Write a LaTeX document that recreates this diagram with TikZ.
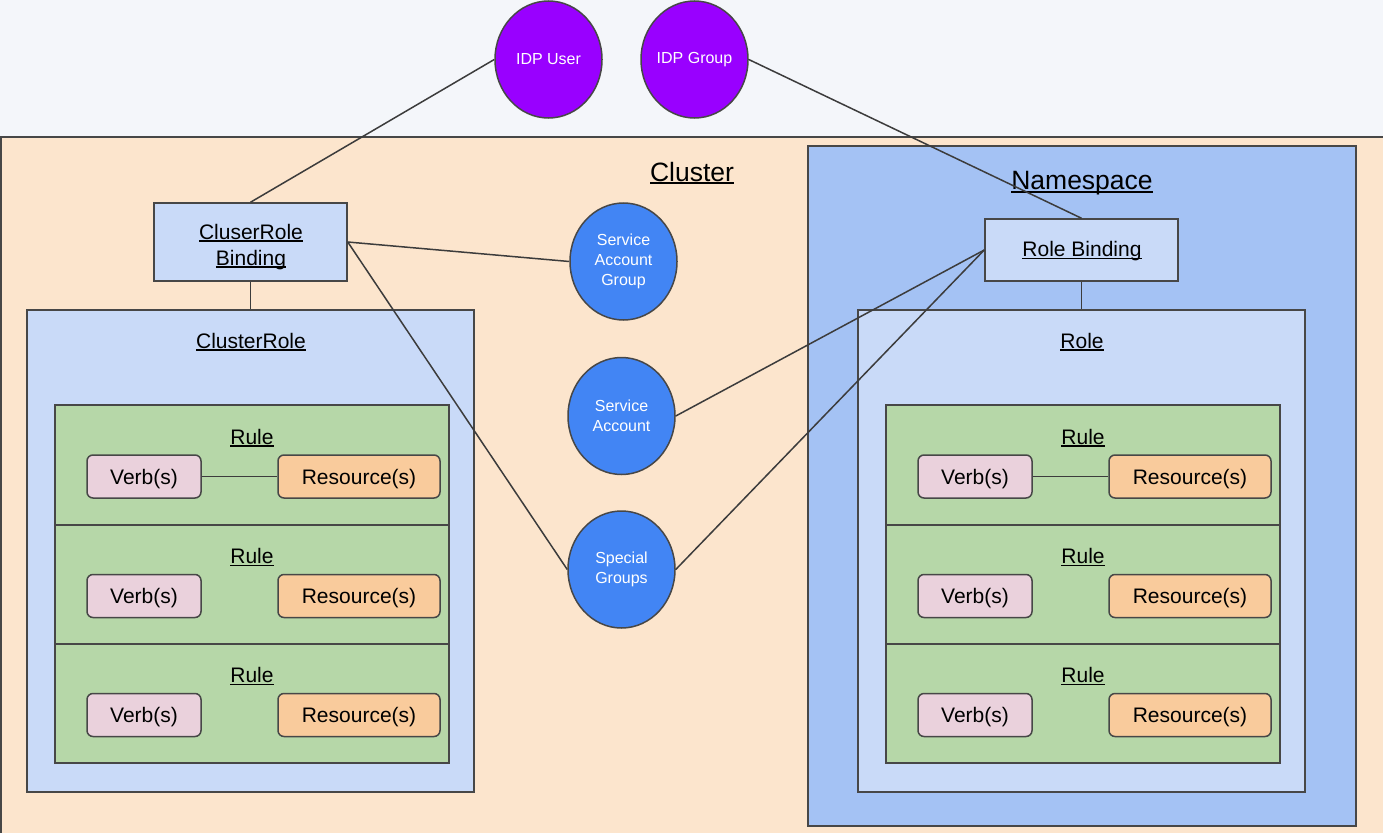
\documentclass[tikz,border=0pt]{standalone}
\usepackage{fontspec}
\setmainfont{Liberation Sans}
\usetikzlibrary{shapes.geometric}

\definecolor{pagebg}{HTML}{F4F6FA}
\definecolor{clusterpeach}{HTML}{FCE5CD}
\definecolor{nsblue}{HTML}{A4C2F4}
\definecolor{paleblue}{HTML}{C9DAF8}
\definecolor{rulegreen}{HTML}{B6D7A8}
\definecolor{verbpink}{HTML}{EAD1DC}
\definecolor{resorange}{HTML}{F9CB9C}
\definecolor{idppurple}{HTML}{9900FF}
\definecolor{sablue}{HTML}{4285F4}
\definecolor{edgegray}{HTML}{474747}
\definecolor{linegray}{HTML}{3C3C3C}

% underlined label with a fixed offset below the baseline
\newcommand\ulabel[1]{\setbox0=\hbox{#1}\rlap{\rule[-0.12em]{\wd0}{0.075em}}\box0}

\begin{document}
\begin{tikzpicture}[x=1pt,y=-1pt,
  frame/.style={draw=edgegray, line width=1.5pt},
  box/.style={frame, rectangle, inner sep=0pt},
  pill/.style={frame, rectangle, rounded corners=6pt, minimum height=43pt,
    inner sep=0pt, text depth=0pt, font=\fontsize{21}{25}\selectfont},
  verbbox/.style={pill, fill=verbpink, minimum width=114pt},
  resbox/.style={pill, fill=resorange, minimum width=162pt},
  bubble/.style={frame, ellipse, minimum width=107pt, minimum height=117pt,
    inner sep=0pt, text=white, align=center, font=\fontsize{16}{20}\selectfont},
  link/.style={draw=linegray, line width=1.5pt},
  heading/.style={font=\fontsize{21}{26}\selectfont, inner sep=0pt, align=center},
  bigheading/.style={font=\fontsize{26.5}{30}\selectfont, inner sep=0pt},
]
\useasboundingbox (0,0) rectangle (1383,832);
\clip (0,0) rectangle (1383,832);
\fill[pagebg] (0,0) rectangle (1383,832);

% cluster and namespace areas
\node[box, fill=clusterpeach, minimum width=1399pt, minimum height=713pt]
  (cluster) at (700.5,493.5) {};
\node[bigheading] (clustertitle) at (692,173) {\ulabel{Cluster}};
\node[box, fill=nsblue, minimum width=548pt, minimum height=680pt]
  (namespace) at (1082,486) {};
\node[bigheading] (nstitle) at (1082,183) {\ulabel{Namespace}};

% role containers
\node[box, fill=paleblue, minimum width=447pt, minimum height=482pt]
  (crole) at (250.5,551) {};
\node[heading] (croletitle) at (251,342) {\ulabel{ClusterRole}};
\node[box, fill=paleblue, minimum width=447pt, minimum height=482pt]
  (role) at (1081.5,551) {};
\node[heading] (roletitle) at (1082,342) {\ulabel{Role}};

% bindings
\node[box, fill=paleblue, minimum width=193pt, minimum height=78pt]
  (crb) at (250.5,242) {};
\node[heading] (crbtext) at (251,247) {\ulabel{CluserRole}\\\ulabel{Binding}};
\node[box, fill=paleblue, minimum width=193pt, minimum height=62pt]
  (rb) at (1081.5,250) {};
\node[heading] (rbtext) at (1082,251.5) {\ulabel{Role Binding}};

% rules with verbs and resources
\foreach \side/\cx in {l/252, r/1083}{
  \foreach \i/\cy/\h in {1/465/120, 2/584.5/119, 3/703.5/119}{
    \node[box, fill=rulegreen, minimum width=394pt, minimum height=\h pt]
      (\side rule\i) at (\cx,\cy) {};
    \node[heading] (\side ruletitle\i) at (\cx,\cy-27) {\ulabel{Rule}};
    \node[verbbox] (\side verb\i) at (\cx-108,\cy+11.5) {Verb(s)};
    \node[resbox] (\side res\i) at (\cx+107,\cy+11.5) {Resource(s)};
  }
}

% subjects
\node[bubble, fill=idppurple] (idpu) at (548.5,59.5) {IDP User};
\node[bubble, fill=idppurple] (idpg) at (694.5,59.5) {IDP Group};
\node[bubble, fill=sablue] (sag) at (623.5,261.5) {Service\\Account\\Group};
\node[bubble, fill=sablue] (sa) at (621.5,416) {Service\\Account};
\node[bubble, fill=sablue] (sg) at (621.5,569.5) {Special\\Groups};

% connectors
\draw[link] (idpu.west) -- (crb.north);
\draw[link] (idpg.east) -- (rb.north);
\draw[link] (crb.east) -- (sag.west);
\draw[link] (crb.east) -- (sg.west);
\draw[link] (rb.west) -- (sa.east);
\draw[link] (rb.west) -- (sg.east);
\draw[link] (crb.south) -- (crole.north);
\draw[link] (rb.south) -- (role.north);
\draw[link] (lverb1) -- (lres1);
\draw[link] (rverb1) -- (rres1);
\end{tikzpicture}
\end{document}
